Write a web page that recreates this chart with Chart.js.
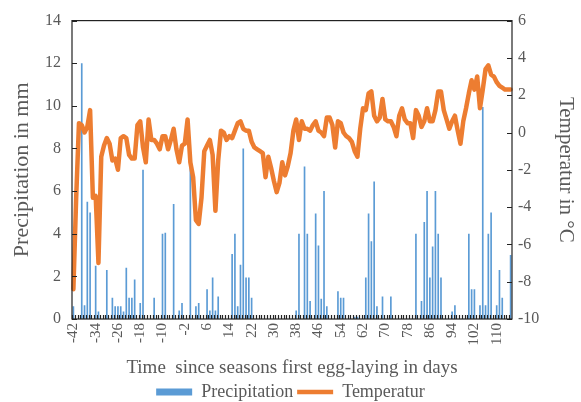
<!DOCTYPE html>
<html>
<head>
<meta charset="utf-8">
<script src="https://cdn.jsdelivr.net/npm/chart.js@4.4.1/dist/chart.umd.min.js"></script>
<style>
  html, body { margin: 0; padding: 0; background: #fff; }
  canvas { display: block; }
</style>
</head>
<body>
<canvas id="chart" width="581" height="402"></canvas>
<script>
// days since first egg-laying (categories)
const days = [
  -42, -41, -40, -39, -38, -37, -36, -35, -34, -33,
  -32, -31, -30, -29, -28, -27, -26, -25, -24, -23,
  -22, -21, -20, -19, -18, -17, -16, -15, -14, -13,
  -12, -11, -10, -9, -8, -7, -6, -5, -4, -3,
  -2, -1, 0, 1, 2, 3, 4, 5, 6, 7,
  8, 9, 10, 11, 12, 13, 14, 15, 16, 17,
  18, 19, 20, 21, 22, 23, 24, 25, 26, 27,
  28, 29, 30, 31, 32, 33, 34, 35, 36, 37,
  38, 39, 40, 41, 42, 43, 44, 45, 46, 47,
  48, 49, 50, 51, 52, 53, 54, 55, 56, 57,
  58, 59, 60, 61, 62, 63, 64, 65, 66, 67,
  68, 69, 70, 71, 72, 73, 74, 75, 76, 77,
  78, 79, 80, 81, 82, 83, 84, 85, 86, 87,
  88, 89, 90, 91, 92, 93, 94, 95, 96, 97,
  98, 99, 100, 101, 102, 103, 104, 105, 106, 107,
  108, 109, 110, 111, 112, 113, 114, 115
];

// precipitation in mm
const precipitation = [
  0.6, 0, 0, 12.0, 0.65, 5.5, 5.0, 0, 2.5, 0.35,
  0, 0, 2.3, 0, 1.0, 0.6, 0.6, 0.6, 0.35, 2.4,
  1.0, 1.0, 1.85, 0, 0.75, 7.0, 0, 0, 0, 1.0,
  0, 0, 4.0, 4.05, 0, 0, 5.4, 0, 0.4, 0.75,
  0, 0, 7.7, 0, 0.6, 0.75, 0, 0, 1.4, 0.4,
  1.95, 0.4, 1.05, 0, 0, 0, 0, 3.05, 4.0, 0.6,
  2.55, 8.0, 1.95, 1.95, 1.0, 0, 0, 0, 0, 0,
  0, 0, 0, 0, 0, 0, 0, 0, 0, 0,
  0.4, 4.0, 0, 7.15, 4.0, 0.85, 0, 4.95, 3.45, 0.95,
  6.0, 0.6, 0, 0, 0, 1.3, 1.0, 1.0, 0, 0,
  0, 0.1, 0.1, 0, 0, 1.95, 4.95, 3.65, 6.45, 0.6,
  0, 1.05, 0, 0, 1.05, 0, 0, 0, 0, 0,
  0, 0, 0, 4.0, 0, 0.85, 4.55, 6.0, 1.95, 3.4,
  6.0, 4.0, 1.95, 0, 0, 0, 0.35, 0.65, 0, 0,
  0, 0, 4.0, 1.4, 1.4, 0, 0.65, 9.95, 0.65, 4.0,
  5.0, 0, 0.65, 2.3, 1.0, 0, 0, 3.0
];

// temperature in °C
const temperature = [
  -8.4, -3.5, 0.5, 0.4, 0.0, 0.3, 1.2, -3.5, -3.4, -7.0,
  -1.3, -0.7, -0.3, -0.6, -1.5, -1.4, -2.0, -0.3, -0.2, -0.3,
  -1.2, -1.4, -1.4, 0.4, 0.6, -0.8, -1.6, 0.7, -0.4, -0.4,
  -0.6, -0.9, -0.2, -0.2, -0.9, -0.4, 0.2, -0.9, -1.6, -0.7,
  -0.6, 0.7, -1.6, -2.4, -4.7, -4.9, -3.5, -1.0, -0.7, -0.4,
  -1.2, -4.2, -1.5, 0.1, 0.0, -0.4, -0.2, -0.3, 0.1, 0.5,
  0.6, 0.2, 0.1, 0.1, -0.5, -0.8, -0.9, -1.0, -1.1, -2.4,
  -1.3, -1.9, -2.6, -3.2, -2.7, -1.6, -2.3, -1.8, -1.1, 0.1,
  0.7, -0.4, 0.6, 0.2, 0.2, 0.1, 0.4, 0.6, 0.1, 0.0,
  -0.2, 0.8, 0.8, 0.4, -0.8, 0.6, 0.5, 0.0, -0.2, -0.3,
  -0.5, -1.0, -1.3, 0.2, 1.3, 1.2, 2.1, 2.2, 0.9, 0.6,
  0.8, 1.8, 0.7, 0.6, 0.6, 0.3, -0.2, 0.9, 1.3, 0.7,
  0.5, 0.5, -0.3, 1.2, 0.9, 0.3, 0.6, 1.3, 0.6, 0.6,
  1.2, 2.2, 2.2, 1.2, 0.7, 0.2, 0.6, 0.9, 0.1, -0.6,
  0.6, 1.3, 2.1, 2.8, 2.3, 3.0, 1.3, 2.3, 3.4, 3.6,
  3.1, 3.0, 2.7, 2.5, 2.4, 2.3, 2.3, 2.3
];

const labelEvery = 8;
const precipRange = [0, 14];
const tempRange = [-10, 6];

const BLUE = '#5B9BD5';
const ORANGE = '#ED7D31';
const TEXT = '#595959';
const FONT = "'Liberation Serif', 'Times New Roman', serif";

// plot frame + inward tick marks like the excel original
const frameTicks = {
  id: 'frameTicks',
  afterDatasetsDraw(chart) {
    const { ctx, chartArea: a, scales } = chart;
    ctx.save();
    ctx.strokeStyle = '#222';
    ctx.lineWidth = 1.2;
    ctx.strokeRect(a.left, a.top, a.right - a.left, a.bottom - a.top);
    ctx.beginPath();
    scales.y.ticks.forEach((t, i) => {
      const y = Math.round(scales.y.getPixelForTick(i)) + 0.5;
      ctx.moveTo(a.left, y); ctx.lineTo(a.left + 5, y);
    });
    scales.y1.ticks.forEach((t, i) => {
      const y = Math.round(scales.y1.getPixelForTick(i)) + 0.5;
      ctx.moveTo(a.right, y); ctx.lineTo(a.right - 5, y);
    });
    const half = (scales.x.getPixelForValue(1) - scales.x.getPixelForValue(0)) / 2;
    days.forEach((d, i) => {
      const x = Math.round(scales.x.getPixelForValue(i) - half) + 0.5;
      ctx.moveTo(x, a.bottom); ctx.lineTo(x, a.bottom - 4);
    });
    ctx.stroke();
    ctx.restore();
  }
};

new Chart(document.getElementById('chart'), {
  data: {
    labels: days,
    datasets: [
      {
        type: 'bar',
        label: 'Precipitation',
        data: precipitation,
        backgroundColor: BLUE,
        barPercentage: 0.6,
        categoryPercentage: 1,
        yAxisID: 'y',
        order: 2
      },
      {
        type: 'line',
        label: 'Temperatur',
        data: temperature,
        borderColor: ORANGE,
        borderWidth: 4.5,
        borderJoinStyle: 'round',
        borderCapStyle: 'round',
        pointRadius: 0,
        tension: 0,
        yAxisID: 'y1',
        order: 1
      }
    ]
  },
  options: {
    responsive: false,
    animation: false,
    layout: { padding: { top: 20, left: 0, right: 0, bottom: 0 } },
    plugins: {
      tooltip: { enabled: false },
      legend: {
        position: 'bottom',
        maxHeight: 23,
        labels: {
          color: TEXT,
          font: { family: FONT, size: 18 },
          usePointStyle: true,
          pointStyleWidth: 36,
          boxHeight: 7,
          padding: 4,
          generateLabels: () => [
            { text: 'Precipitation', fillStyle: BLUE, strokeStyle: BLUE, lineWidth: 0, pointStyle: 'rect', hidden: false, datasetIndex: 0, fontColor: TEXT },
            { text: 'Temperatur', fillStyle: ORANGE, strokeStyle: ORANGE, lineWidth: 4.5, lineCap: 'butt', pointStyle: 'line', hidden: false, datasetIndex: 1, fontColor: TEXT }
          ]
        }
      }
    },
    scales: {
      x: {
        type: 'category',
        offset: true,
        grid: { display: false, drawTicks: false },
        border: { display: false },
        ticks: {
          autoSkip: false,
          minRotation: 90,
          maxRotation: 90,
          padding: 4,
          color: TEXT,
          font: { family: FONT, size: 15 },
          callback: (v, i) => ((days[i] - days[0]) % labelEvery === 0 ? String(days[i]) : '')
        },
        title: {
          display: true,
          text: 'Time  since seasons first egg-laying in days',
          color: TEXT,
          font: { family: FONT, size: 19 },
          padding: { top: 0, bottom: 0 }
        },
        afterFit: (s) => { s.height = 60; }
      },
      y: {
        position: 'left',
        min: precipRange[0],
        max: precipRange[1],
        grid: { display: false, drawTicks: false },
        border: { display: false },
        ticks: { stepSize: 2, padding: 11, color: TEXT, font: { family: FONT, size: 16 } },
        title: {
          display: true,
          text: 'Precipitation in mm',
          color: TEXT,
          font: { family: FONT, size: 22 },
          padding: { top: 9, bottom: 0 }
        },
        afterFit: (s) => { s.width = 72; }
      },
      y1: {
        position: 'right',
        min: tempRange[0],
        max: tempRange[1],
        grid: { display: false, drawTicks: false },
        border: { display: false },
        ticks: { stepSize: 2, padding: 6, color: TEXT, font: { family: FONT, size: 16 } },
        title: {
          display: true,
          text: 'Temperatur in °C',
          color: TEXT,
          font: { family: FONT, size: 21 },
          padding: { top: 3, bottom: 0 }
        },
        afterFit: (s) => { s.width = 69; }
      }
    }
  },
  plugins: [frameTicks]
});
</script>
</body>
</html>
